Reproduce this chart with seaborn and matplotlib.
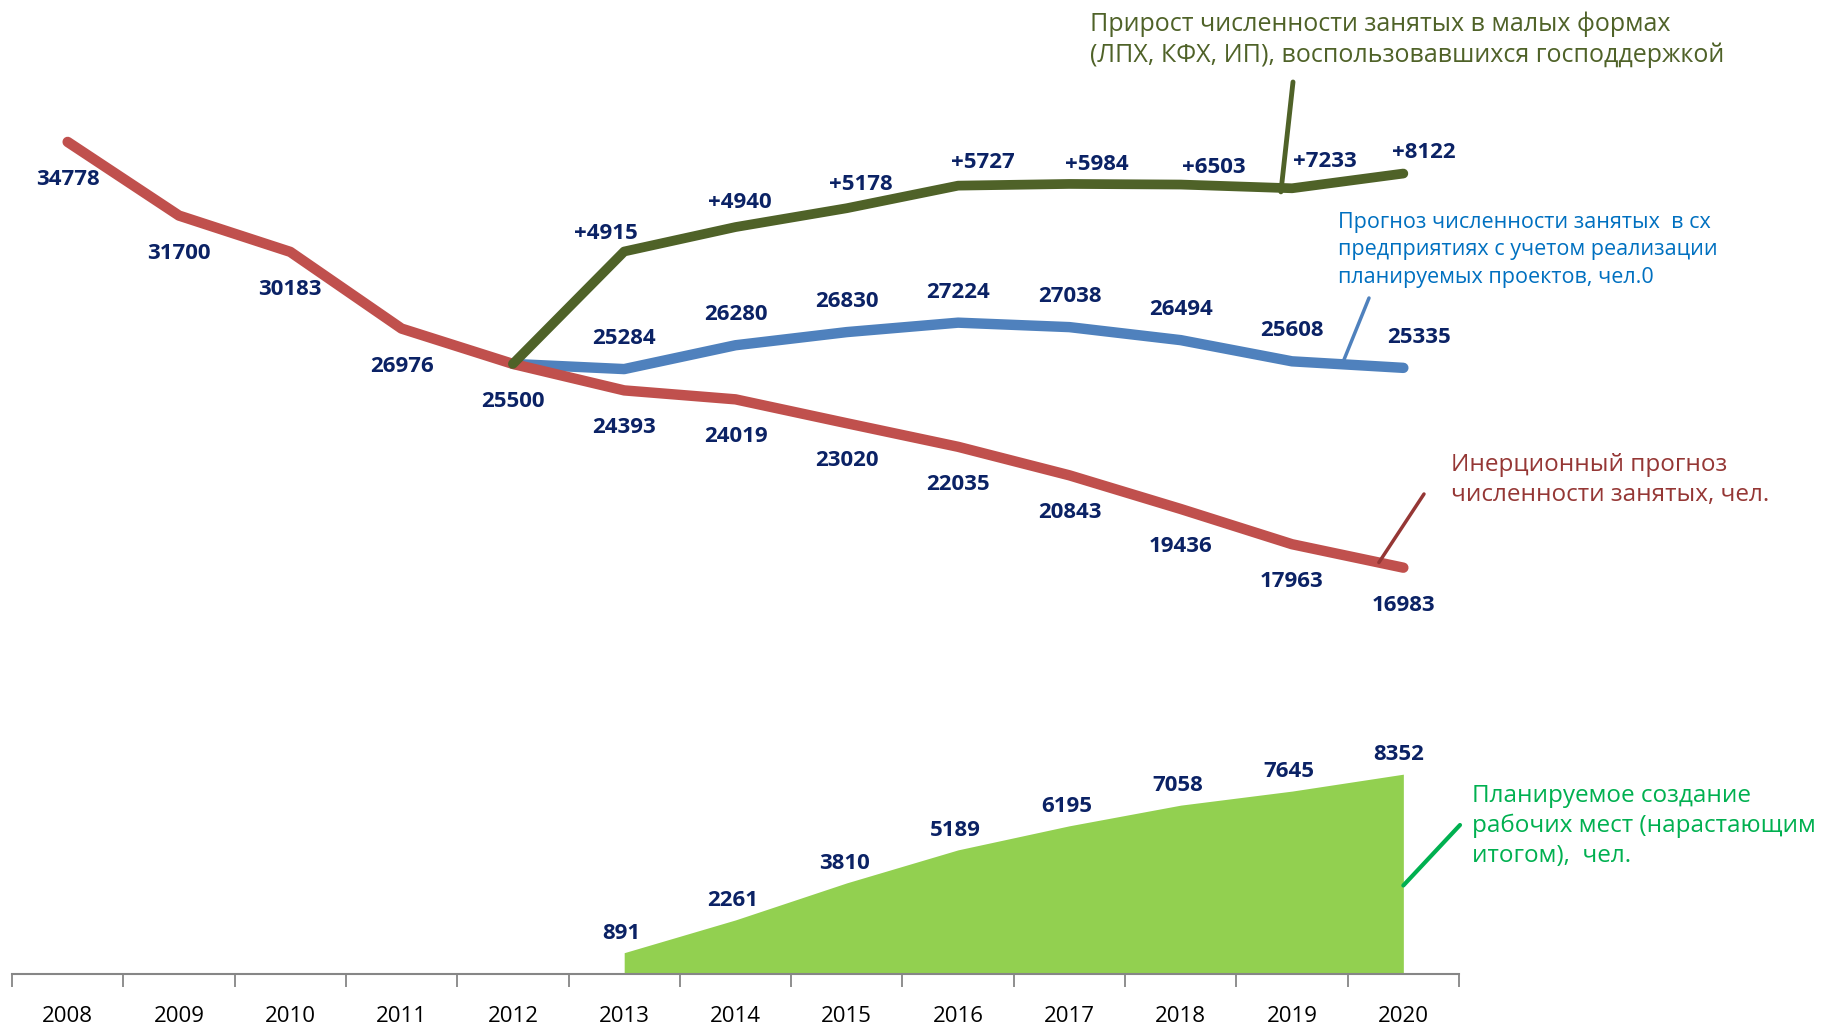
import matplotlib
matplotlib.use('Agg')
import matplotlib.pyplot as plt
import numpy as np
import pandas as pd
import seaborn as sns

# data
years = list(range(2008, 2021))
inertial = [34778, 31700, 30183, 26976, 25500, 24393, 24019, 23020, 22035, 20843, 19436, 17963, 16983]
proj_years = list(range(2012, 2021))
projects = [25500, 25284, 26280, 26830, 27224, 27038, 26494, 25608, 25335]
incr_years = list(range(2013, 2021))
increment = [4915, 4940, 5178, 5727, 5984, 6503, 7233, 8122]
jobs_years = list(range(2013, 2021))
jobs = [891, 2261, 3810, 5189, 6195, 7058, 7645, 8352]

df_red = pd.DataFrame({'year': years, 'value': inertial})
df_blue = pd.DataFrame({'year': proj_years, 'value': projects})
# small-forms line sits on top of the projects line
df_dg = pd.DataFrame({'year': proj_years,
                      'value': [projects[0]] + [p + i for p, i in zip(projects[1:], increment)]})

sns.set_style('white')
plt.rcParams['font.family'] = ['Open Sans', 'DejaVu Sans']

RED = '#C0504D'
BLUE = '#4F81BD'
DGREEN = '#4F6228'
LGREEN = '#92D050'
NAVY = '#0B2265'

W, H = 1835, 1027
fig = plt.figure(figsize=(W / 100, H / 100), dpi=100)
ax = fig.add_axes([12 / W, 1 - 974 / H, (1459 - 12) / W, 957 / H])

ax.fill_between(jobs_years, 0, jobs, color=LGREEN, lw=0, zorder=1)
sns.lineplot(data=df_red, x='year', y='value', color=RED, lw=7.5, ax=ax,
             solid_capstyle='round', zorder=3)
sns.lineplot(data=df_blue, x='year', y='value', color=BLUE, lw=7.5, ax=ax,
             solid_capstyle='round', zorder=2)
sns.lineplot(data=df_dg, x='year', y='value', color=DGREEN, lw=7, ax=ax,
             solid_capstyle='round', zorder=4)

lbl = dict(color=NAVY, fontsize=16, fontweight='bold', ha='center', va='center',
           textcoords='offset points')
for x, v in zip(years, inertial):
    ax.annotate(f'{v}', (x, v), xytext=(0, -27), **lbl)
for x, v in zip(proj_years[1:], projects[1:]):
    dx = 11 if x == 2020 else 0
    ax.annotate(f'{v}', (x, v), xytext=(dx, 22), **lbl)
dg_off = [(-13, 13), (3, 18), (10, 17), (18, 17), (20, 14), (24, 12), (24, 19), (15, 15)]
for (x, v), off in zip(zip(proj_years[1:], df_dg['value'][1:]), dg_off):
    ax.annotate(f'+{increment[x - 2013]}', (x, v), xytext=off, **lbl)
for x, v in zip(jobs_years, jobs):
    dx = -3 if x == 2020 else -2
    ax.annotate(f'{v}', (x, v), xytext=(dx, 14), **lbl)

ax.set_xlim(2007.5, 2020.5)
ax.set_ylim(0, 40000)
ax.set_xticks(years)
ax.set_xticklabels([str(y) for y in years])
ax.set_xticks(np.arange(2007.5, 2021, 1), minor=True)
ax.tick_params(axis='x', which='major', bottom=True, length=0, pad=23, labelsize=16, labelcolor='black')
ax.tick_params(axis='x', which='minor', bottom=True, length=9, width=1.3, color='#868686', direction='out')
ax.set_yticks([])
ax.set_xlabel('')
ax.set_ylabel('')
for s in ['top', 'right', 'left']:
    ax.spines[s].set_visible(False)
ax.spines['bottom'].set_color('#868686')
ax.spines['bottom'].set_linewidth(1.5)

def fx(px):
    return px / W

def fy(py):
    return 1 - py / H

# series captions with leader lines
fig.text(fx(1090), fy(40), 'Прирост численности занятых в малых формах\n(ЛПХ, КФХ, ИП), воспользовавшихся господдержкой',
         color=DGREEN, fontsize=18, va='center', ha='left', linespacing=1.3)
ax.annotate('', xy=(2018.9, df_dg['value'][7] - 150), xycoords='data',
            xytext=(fx(1293), fy(82)), textcoords='figure fraction',
            arrowprops=dict(arrowstyle='-', color=DGREEN, lw=3.5, shrinkA=0, shrinkB=0), zorder=5)

fig.text(fx(1338), fy(250), 'Прогноз численности занятых  в сх\nпредприятиях с учетом реализации\nпланируемых проектов, чел.0',
         color='#0070C0', fontsize=15.5, va='center', ha='left', linespacing=1.4)
ax.annotate('', xy=(2019.45, np.interp(2019.45, proj_years, projects)), xycoords='data',
            xytext=(fx(1369), fy(298)), textcoords='figure fraction',
            arrowprops=dict(arrowstyle='-', color=BLUE, lw=2.5, shrinkA=0, shrinkB=0), zorder=5)

fig.text(fx(1451), fy(480), 'Инерционный прогноз\nчисленности занятых, чел.',
         color='#953735', fontsize=17.5, va='center', ha='left', linespacing=1.3)
ax.annotate('', xy=(2019.78, np.interp(2019.78, years, inertial)), xycoords='data',
            xytext=(fx(1424), fy(494)), textcoords='figure fraction',
            arrowprops=dict(arrowstyle='-', color='#953735', lw=2.5, shrinkA=0, shrinkB=0), zorder=5)

fig.text(fx(1472), fy(826), 'Планируемое создание\nрабочих мест (нарастающим\nитогом),  чел.',
         color='#00B050', fontsize=17.5, va='center', ha='left', linespacing=1.3)
ax.annotate('', xy=(2020, 3700), xycoords='data',
            xytext=(fx(1460), fy(825)), textcoords='figure fraction',
            arrowprops=dict(arrowstyle='-', color='#00B050', lw=3, shrinkA=0, shrinkB=0), zorder=5)

fig.savefig('out.png', dpi=100, facecolor='white')
